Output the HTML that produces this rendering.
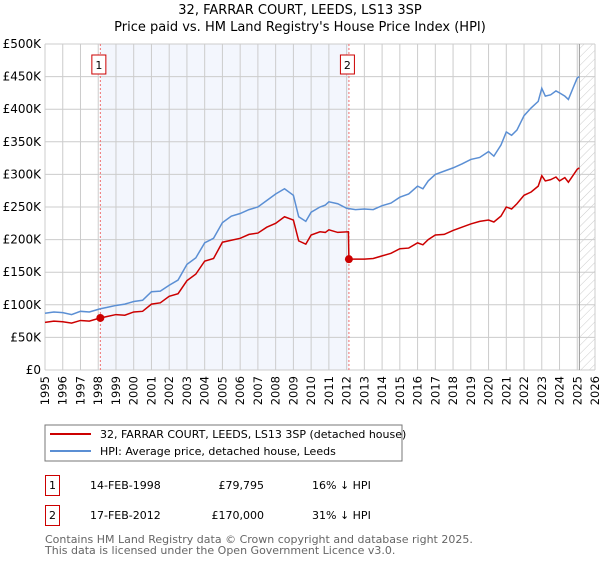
<!DOCTYPE html>
<html><head><meta charset="utf-8"><style>
body{margin:0;background:#fff;font-family:"DejaVu Sans","Liberation Sans",sans-serif;}
svg text{font-family:"DejaVu Sans","Liberation Sans",sans-serif;}
</style></head><body>
<svg id="chart" width="600" height="560" viewBox="0 0 600 560" xmlns="http://www.w3.org/2000/svg">
<defs><pattern id="hatch" width="6" height="6" patternUnits="userSpaceOnUse" patternTransform="rotate(45)"><line x1="0" y1="0" x2="0" y2="6" stroke="#ccc" stroke-width="1"/></pattern></defs>
<text x="300" y="14" text-anchor="middle" font-size="13" fill="#000">32, FARRAR COURT, LEEDS, LS13 3SP</text>
<text x="300" y="31" text-anchor="middle" font-size="13" fill="#000">Price paid vs. HM Land Registry's House Price Index (HPI)</text>
<g id="plot"></g>
<g>
<rect x="45" y="425" width="357" height="36" fill="#fff" stroke="#777"/>
<line x1="50" y1="434" x2="91" y2="434" stroke="#cc0000" stroke-width="2"/>
<text x="100" y="438" font-size="11">32, FARRAR COURT, LEEDS, LS13 3SP (detached house)</text>
<line x1="50" y1="451" x2="91" y2="451" stroke="#5b8fd4" stroke-width="2"/>
<text x="100" y="455" font-size="11">HPI: Average price, detached house, Leeds</text>
</g>
<g>
<rect x="45.5" y="475.5" width="14" height="20" fill="none" stroke="#cc0000"/>
<text x="52.5" y="489" font-size="11" text-anchor="middle">1</text>
<text x="90" y="489" font-size="11">14-FEB-1998</text>
<text x="264" y="489" font-size="11" text-anchor="end">£79,795</text>
<text x="312" y="489" font-size="11">16% ↓ HPI</text>
<rect x="45.5" y="505.5" width="14" height="20" fill="none" stroke="#cc0000"/>
<text x="52.5" y="519" font-size="11" text-anchor="middle">2</text>
<text x="90" y="519" font-size="11">17-FEB-2012</text>
<text x="264" y="519" font-size="11" text-anchor="end">£170,000</text>
<text x="312" y="519" font-size="11">31% ↓ HPI</text>
</g>
<text x="45" y="543" font-size="11" fill="#666">Contains HM Land Registry data © Crown copyright and database right 2025.</text>
<text x="45" y="554" font-size="11" fill="#666">This data is licensed under the Open Government Licence v3.0.</text>
</svg>
<script>
const yTicks=[0,50,100,150,200,250,300,350,400,450,500];
const yTickLabels=["£0","£50K","£100K","£150K","£200K","£250K","£300K","£350K","£400K","£450K","£500K"];
const xYears=[1995,1996,1997,1998,1999,2000,2001,2002,2003,2004,2005,2006,2007,2008,2009,2010,2011,2012,2013,2014,2015,2016,2017,2018,2019,2020,2021,2022,2023,2024,2025,2026];
const hpiDates=[1995,1995.5,1996,1996.5,1997,1997.5,1998,1998.12,1998.5,1999,1999.5,2000,2000.5,2001,2001.5,2002,2002.5,2003,2003.5,2004,2004.5,2005,2005.5,2006,2006.5,2007,2007.5,2008,2008.5,2009,2009.3,2009.7,2010,2010.5,2010.8,2011,2011.5,2012,2012.5,2013,2013.5,2014,2014.5,2015,2015.5,2016,2016.3,2016.6,2017,2017.5,2018,2018.5,2019,2019.5,2020,2020.3,2020.7,2021,2021.3,2021.6,2022,2022.4,2022.8,2023,2023.2,2023.5,2023.8,2024,2024.3,2024.5,2024.8,2025,2025.12];
const hpiValues=[87,89,88,85,90,89,93,94,96,99,101,105,107,120,121,130,138,162,172,195,202,226,236,240,246,250,260,270,278,268,235,228,242,250,253,258,255,248,246,247,246,252,256,265,270,282,278,290,300,305,310,316,323,326,335,328,345,365,360,368,390,402,412,432,420,422,428,425,420,415,435,448,450];
const priceDates=[1995,1995.5,1996,1996.5,1997,1997.5,1998,1998.12,1998.5,1999,1999.5,2000,2000.5,2001,2001.5,2002,2002.5,2003,2003.5,2004,2004.5,2005,2005.5,2006,2006.5,2007,2007.5,2008,2008.5,2009,2009.3,2009.7,2010,2010.5,2010.8,2011,2011.5,2012.1,2012.13,2012.5,2013,2013.5,2014,2014.5,2015,2015.5,2016,2016.3,2016.6,2017,2017.5,2018,2018.5,2019,2019.5,2020,2020.3,2020.7,2021,2021.3,2021.6,2022,2022.4,2022.8,2023,2023.2,2023.5,2023.8,2024,2024.3,2024.5,2024.8,2025,2025.12];
const priceValues=[73,75,74,72,76,75,79,79.8,82,85,84,89,90,101,103,113,117,137,147,167,171,196,199,202,208,210,219,225,235,230,198,193,207,212,211,215,211,212,170,170,170,171,175,179,186,187,195,192,200,207,208,214,219,224,228,230,227,236,250,247,255,268,273,282,298,290,292,296,290,295,288,300,308,310];
const sales=[{d:1998.12,v:79.795,label:"1"},{d:2012.13,v:170,label:"2"}];
const NS="http://www.w3.org/2000/svg";
const L=45,R=595,T=44,B=370;
const x=d=>L+(d-1995)/(2026-1995)*(R-L);
const y=v=>B-v/500*(B-T);
const g=document.getElementById('plot');
function el(t,a){const e=document.createElementNS(NS,t);for(const k in a)e.setAttribute(k,a[k]);g.appendChild(e);return e;}
let e=el('rect',{x:x(sales[0].d),y:T,width:x(sales[1].d)-x(sales[0].d),height:B-T,fill:'#eef2fc',opacity:0.7});


e=el('rect',{x:x(2025.12),y:T,width:R-x(2025.12),height:B-T,fill:'url(#hatch)'});


xYears.forEach(yr=>{
 const l=el('line',{x1:x(yr),x2:x(yr),y1:T,y2:B,stroke:'#ccc','stroke-width':1});
 
 
 const t=el('text',{transform:`translate(${x(yr)+4},${B+6}) rotate(-90)`,'text-anchor':'end','font-size':11.5});
 t.textContent=yr;
 
 
});
yTicks.forEach((v,i)=>{
 const l=el('line',{x1:L,x2:R,y1:y(v),y2:y(v),stroke:'#ccc','stroke-width':1});
 
 
 const t=el('text',{x:L-4,y:y(v)+4,'text-anchor':'end','font-size':12});
 t.textContent=yTickLabels[i];
 
 
});
e=el('line',{x1:x(2025.12),x2:x(2025.12),y1:T,y2:B,stroke:'#999','stroke-width':1});


sales.forEach(s=>{
 const l=el('line',{x1:x(s.d),x2:x(s.d),y1:T,y2:B,stroke:'#f07070','stroke-width':1,'stroke-dasharray':'2,2'});
 
 
 const r=el('rect',{x:x(s.d)-8.5,y:55,width:14,height:19,fill:'#fff',stroke:'#cc0000'});
 
 
 const t=el('text',{x:x(s.d)-1.5,y:69,'text-anchor':'middle','font-size':11});
 t.textContent=s.label;
 
 
});
const hp=el('polyline',{points:hpiDates.map((d,i)=>x(d)+','+y(hpiValues[i])).join(' '),fill:'none',stroke:'#5b8fd4','stroke-width':1.5});


const pp=el('polyline',{points:priceDates.map((d,i)=>x(d)+','+y(priceValues[i])).join(' '),fill:'none',stroke:'#cc0000','stroke-width':1.5});


sales.forEach(s=>{
 const c=el('circle',{cx:x(s.d),cy:y(s.v),r:4,fill:'#cc0000'});
 
 
});
</script>
</body></html>
